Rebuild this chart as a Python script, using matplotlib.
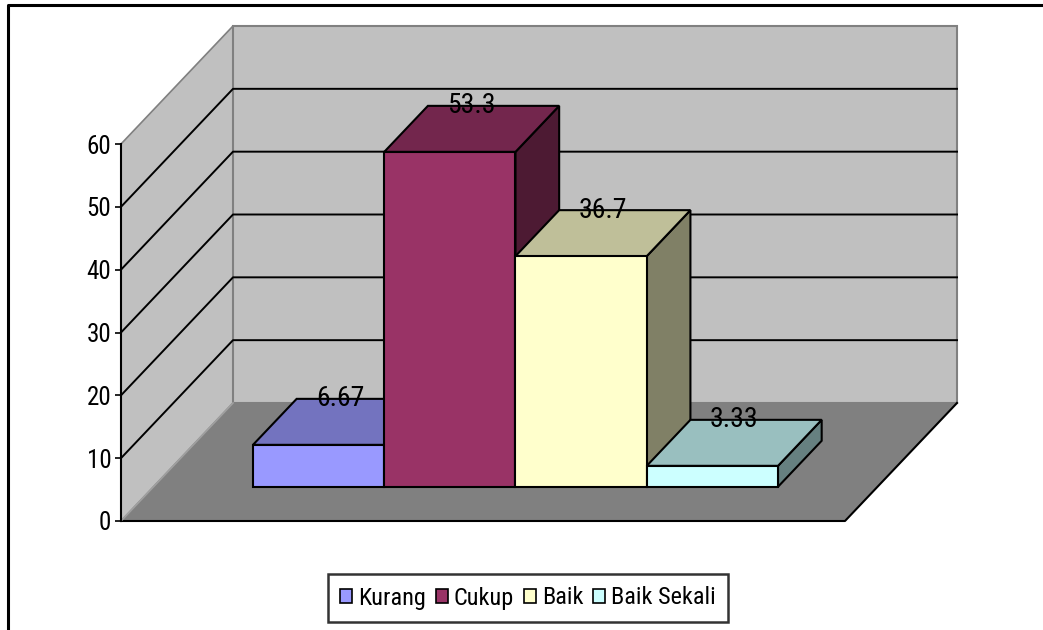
import matplotlib
matplotlib.use("Agg")
import matplotlib.pyplot as plt
from matplotlib.patches import Polygon, Patch
from matplotlib.lines import Line2D

# ---------------- data ----------------
categories = ["Kurang", "Cukup", "Baik", "Baik Sekali"]
values = [6.67, 53.3, 36.7, 3.33]
yticks = [0, 10, 20, 30, 40, 50, 60]
front_colors = ["#9999ff", "#993366", "#ffffcc", "#ccffff"]

# ---------------- style / layout ----------------
W, H = 1043, 630
plt.rcParams["font.family"] = ["Roboto Condensed", "Liberation Sans", "DejaVu Sans"]

fig = plt.figure(figsize=(W / 100, H / 100), dpi=100)
fig.patch.set_facecolor("white")

# front plane of the 3-D box (pixels from top-left)
FX0, FY0, FW, FH = 121, 521, 724, 377
ax = fig.add_axes([FX0 / W, (H - FY0) / H, FW / W, FH / H])
ax.set_xlim(0, 1)
ax.set_ylim(yticks[0], yticks[-1])
ax.patch.set_visible(False)

# oblique depth vector (data units per unit depth)
DEPTH_PX = (112, 118)
DX = DEPTH_PX[0] / FW
DY = DEPTH_PX[1] / FH * (yticks[-1] - yticks[0])


def P(x, v, z):
    return (x + z * DX, v + z * DY)


def shade(hexc, f):
    c = matplotlib.colors.to_rgb(hexc)
    return tuple(ch * f for ch in c)


vmin, vmax = yticks[0], yticks[-1]
wall = "#c0c0c0"
wall_edge = "#808080"

# floor
ax.add_patch(Polygon([P(0, vmin, 0), P(1, vmin, 0), P(1, vmin, 1), P(0, vmin, 1)],
                     closed=True, facecolor="#808080", edgecolor="none",
                     clip_on=False, zorder=0.5))
# left wall
ax.add_patch(Polygon([P(0, vmin, 0), P(0, vmin, 1), P(0, vmax, 1), P(0, vmax, 0)],
                     closed=True, facecolor=wall, edgecolor=wall_edge, lw=1.2,
                     clip_on=False, zorder=0.5))
# back wall
ax.add_patch(Polygon([P(0, vmin, 1), P(1, vmin, 1), P(1, vmax, 1), P(0, vmax, 1)],
                     closed=True, facecolor=wall, edgecolor=wall_edge, lw=1.5,
                     clip_on=False, zorder=0.5))

# gridlines
for v in yticks[1:-1]:
    pts = [P(0, v, 0), P(0, v, 1), P(1, v, 1)]
    ax.add_line(Line2D([p[0] for p in pts], [p[1] for p in pts], color="black",
                       lw=1.4, clip_on=False, zorder=1))

# floor front / right edges
pts = [P(0, vmin, 0), P(1, vmin, 0), P(1, vmin, 1)]
ax.add_line(Line2D([p[0] for p in pts], [p[1] for p in pts], color="black",
                   lw=1.5, clip_on=False, zorder=1))
# floor left edge (light)
pts = [P(0, vmin, 0), P(0, vmin, 1)]
ax.add_line(Line2D([p[0] for p in pts], [p[1] for p in pts], color="#a0a0a0",
                   lw=1.2, clip_on=False, zorder=1))

# bars
n = len(values)
bw = 0.1813
z0, z1 = 0.29, 0.68
for i, (v, col) in enumerate(zip(values, front_colors)):
    x0 = 0.5 - n / 2 * bw + i * bw
    x1 = x0 + bw
    zo = 3 + i
    side = [P(x1, vmin, z0), P(x1, vmin, z1), P(x1, v, z1), P(x1, v, z0)]
    top = [P(x0, v, z0), P(x1, v, z0), P(x1, v, z1), P(x0, v, z1)]
    front = [P(x0, vmin, z0), P(x1, vmin, z0), P(x1, v, z0), P(x0, v, z0)]
    ax.add_patch(Polygon(side, closed=True, facecolor=shade(col, 0.5),
                         edgecolor="black", lw=1.5, joinstyle="miter",
                         clip_on=False, zorder=zo))
    ax.add_patch(Polygon(top, closed=True, facecolor=shade(col, 0.75),
                         edgecolor="black", lw=1.5, joinstyle="miter",
                         clip_on=False, zorder=zo))
    ax.add_patch(Polygon(front, closed=True, facecolor=col,
                         edgecolor="black", lw=1.5, joinstyle="miter",
                         clip_on=False, zorder=zo))
    xc = (x0 + x1) / 2
    tx = P(xc, v, (z0 + z1) / 2)[0]
    ty = P(xc, v, z1)[1]
    ax.text(tx, ty, f"{v:.3g}", ha="center", va="center", fontsize=20,
            color="black", zorder=20, clip_on=False)

# axes / ticks
for s in ["top", "right", "bottom"]:
    ax.spines[s].set_visible(False)
ax.spines["left"].set_color("black")
ax.spines["left"].set_linewidth(1.5)
ax.spines["left"].set_zorder(2)
ax.set_xticks([])
ax.set_yticks(yticks)
ax.set_yticklabels([str(t) for t in yticks])
ax.tick_params(axis="y", direction="out", length=4, width=1.2, pad=3,
               labelsize=18, colors="black")

# legend
handles = [Patch(facecolor=c, edgecolor="black", lw=1.2) for c in front_colors]
leg = fig.legend(handles, categories, ncol=4, loc="center",
                 bbox_to_anchor=(528 / W, 1 - 598 / H), fontsize=17.5,
                 frameon=True, fancybox=False, handlelength=0.5,
                 handleheight=0.5, handletextpad=0.25, columnspacing=0.4,
                 borderpad=0.5, borderaxespad=0)
leg.get_frame().set_edgecolor("black")
leg.get_frame().set_linewidth(1.8)

# outer chart frame (only top and left visible in the crop)
fig.add_artist(Line2D([8 / W, 8 / W, 1], [0, 1 - 5 / H, 1 - 5 / H],
                      transform=fig.transFigure, color="black", lw=2.2))

fig.savefig("out.png", dpi=100, facecolor="white")
